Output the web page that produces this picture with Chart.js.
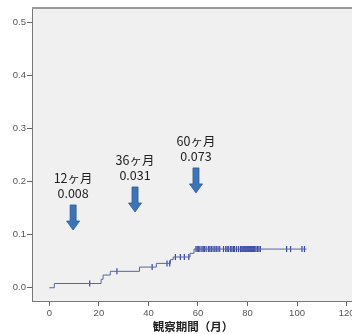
<!DOCTYPE html>
<html>
<head>
<meta charset="utf-8">
<script src="https://cdn.jsdelivr.net/npm/chart.js@4/dist/chart.umd.min.js"></script>
<style>
  html, body { margin: 0; padding: 0; background: #fff; overflow: hidden; }
  #wrap { width: 352px; height: 334px; overflow: hidden; }
  #mycanvas { display: block; }
</style>
</head>
<body>
<div id="wrap"><canvas id="mycanvas" width="362" height="334"></canvas></div>
<script>
// cumulative incidence steps (months, value)
var stepTime = [0, 2, 20.9, 21.7, 24.6, 36.4, 43.2, 48.9, 50, 56.8, 58.4, 103.8];
var stepValue = [0, 0.008, 0.016, 0.024, 0.031, 0.039, 0.046, 0.053, 0.058, 0.065, 0.073, 0.073];

// censored observations (months)
var censorTime = [16.3, 27.3, 41.5, 47.5, 48.6, 50.9, 52.9, 54.5, 56.3,
  59.2, 59.7, 60.3, 60.8, 61.6, 62.1, 62.6, 63.3, 64.2, 64.8, 65.4, 66.1, 66.8,
  67.4, 68.1, 68.8, 70.3, 71.2, 71.8, 72.4, 73.2, 73.7, 74.3, 74.8, 75.6, 76.4,
  77.2, 77.7, 78.1, 78.5, 78.9, 79.3, 79.7, 80.1, 80.5, 80.9, 81.3, 81.7, 82.1,
  82.5, 82.9, 83.4, 84, 84.6, 85.2, 95.8, 97.4, 102, 103];

var xTicks = [0, 20, 40, 60, 80, 100, 120];
var yTicks = [0, 0.1, 0.2, 0.3, 0.4, 0.5];

// arrows with labels
var annMonth = ['12ヶ月', '36ヶ月', '60ヶ月'];
var annValue = ['0.008', '0.031', '0.073'];
var annX = [9.6, 34.6, 59.2];
var annTipY = [0.109, 0.143, 0.179];

function valueAt(t) {
  var v = 0;
  for (var i = 0; i < stepTime.length; i++) {
    if (stepTime[i] <= t) v = stepValue[i];
  }
  return v;
}

var curve = [];
for (var i in stepTime) curve.push({x: stepTime[i], y: stepValue[i]});
var censors = [];
for (var j in censorTime) censors.push({x: censorTime[j], y: valueAt(censorTime[j])});

var panel = {
  id: 'panel',
  beforeDraw: function(chart) {
    var a = chart.chartArea, c = chart.ctx;
    c.save();
    c.fillStyle = '#f0f0f0';
    c.fillRect(a.left, a.top, a.right - a.left, a.bottom - a.top);
    c.restore();
  },
  afterDraw: function(chart) {
    var a = chart.chartArea, c = chart.ctx;
    var xs = chart.scales.x, ys = chart.scales.y;
    c.save();
    c.strokeStyle = '#999';
    c.lineWidth = 2;
    c.beginPath();
    c.moveTo(a.left, a.top);
    c.lineTo(a.right, a.top);
    c.stroke();

    for (var k = 0; k < annX.length; k++) {
      var cx = xs.getPixelForValue(annX[k]);
      var tip = ys.getPixelForValue(annTipY[k]);
      // arrow
      c.beginPath();
      c.moveTo(cx - 3, tip - 25);
      c.lineTo(cx + 3, tip - 25);
      c.lineTo(cx + 3, tip - 9);
      c.lineTo(cx + 6.5, tip - 9);
      c.lineTo(cx, tip);
      c.lineTo(cx - 6.5, tip - 9);
      c.lineTo(cx - 3, tip - 9);
      c.closePath();
      c.fillStyle = '#3d73b9';
      c.fill();
      c.strokeStyle = '#2c5a94';
      c.lineWidth = 0.8;
      c.stroke();
      // labels
      c.fillStyle = '#222';
      c.textAlign = 'center';
      c.textBaseline = 'middle';
      c.font = '12.5px "Noto Sans CJK JP", "Noto Sans", sans-serif';
      c.fillText(annMonth[k], cx, tip - 52);
      c.fillText(annValue[k], cx, tip - 37);
    }
    c.restore();
  }
};

var ctx = document.getElementById('mycanvas');
var chart = new Chart(ctx, {
  type: 'scatter',
  data: {
    datasets: [
      {
        label: 'curve',
        data: curve,
        showLine: true,
        stepped: 'before',
        borderColor: '#5566aa',
        borderWidth: 1,
        pointRadius: 0
      },
      {
        label: 'censored',
        data: censors,
        pointStyle: 'line',
        rotation: 90,
        pointRadius: 3,
        borderColor: '#3646a2',
        borderWidth: 1.2,
        backgroundColor: '#3646a2'
      }
    ]
  },
  options: {
    responsive: false,
    animation: false,
    events: [],
    layout: { padding: { top: 8, right: 8, left: 0, bottom: 0 } },
    plugins: { legend: { display: false }, tooltip: { enabled: false } },
    scales: {
      x: {
        type: 'linear',
        min: -7,
        max: 123,
        afterFit: function(s) { s.height = 33; },
        afterBuildTicks: function(s) { s.ticks = xTicks.map(function(v) { return {value: v}; }); },
        grid: { drawOnChartArea: false, drawTicks: true, tickLength: 5, color: '#666' },
        border: { color: '#777', width: 1 },
        ticks: {
          autoSkip: false,
          maxRotation: 0,
          padding: 2,
          color: '#555',
          font: { family: '"Liberation Sans", Arial, sans-serif', size: 9.5 }
        },
        title: {
          display: true,
          text: '観察期間（月）',
          color: '#222',
          padding: { top: 2, bottom: 0 },
          font: { family: '"Noto Sans CJK JP", sans-serif', size: 11.5, weight: 'bold' }
        }
      },
      y: {
        type: 'linear',
        min: -0.025,
        max: 0.528,
        afterFit: function(s) { s.width = 32; },
        afterBuildTicks: function(s) { s.ticks = yTicks.map(function(v) { return {value: v}; }); },
        grid: { drawOnChartArea: false, drawTicks: true, tickLength: 5, color: '#666' },
        border: { color: '#777', width: 1 },
        ticks: {
          autoSkip: false,
          padding: 1,
          color: '#555',
          font: { family: '"Liberation Sans", Arial, sans-serif', size: 9.5 },
          callback: function(v) { return v.toFixed(1); }
        }
      }
    }
  },
  plugins: [panel]
});
</script>
</body>
</html>
